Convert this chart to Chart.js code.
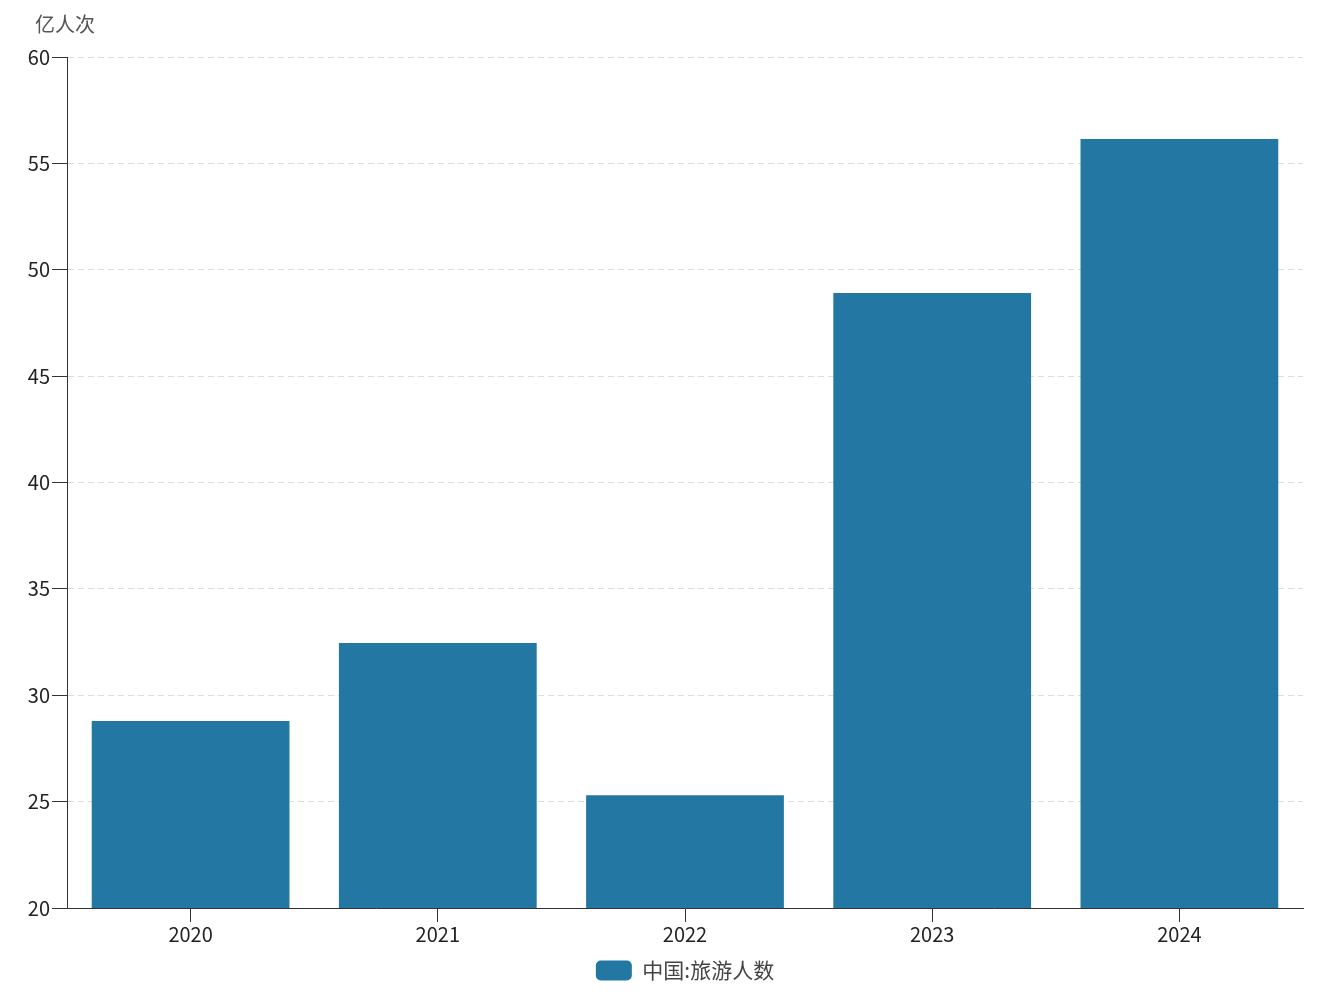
<!DOCTYPE html>
<html>
<head>
<meta charset="utf-8">
<script src="https://cdn.jsdelivr.net/npm/chart.js@4/dist/chart.umd.min.js"></script>
<style>
    body { margin: 0; background: #fff; }
    #chart { display: block; }
</style>
</head>
<body>
<canvas id="chart" width="1338" height="996"></canvas>
<script>
const years = ["2020", "2021", "2022", "2023", "2024"];
const tourists = [28.79, 32.46, 25.30, 48.91, 56.15];
const series_name = "中国:旅游人数";
const unit_label = "亿人次";

const font_family = '"Noto Sans CJK SC", "Noto Sans", sans-serif';
const bar_color = "#2377a3";

// unit text above the y axis, legend centred under the plot area
const extras = {
    id: "extras",
    afterLayout: function(chart) {
        if (chart.legend) {
            chart.legend.left += chart.chartArea.left;
        }
    },
    afterDraw: function(chart) {
        const ctx = chart.ctx;
        ctx.save();
        ctx.font = "20px " + font_family;
        ctx.fillStyle = "#555";
        ctx.textAlign = "left";
        ctx.textBaseline = "middle";
        ctx.fillText(unit_label, 35, 24);
        ctx.restore();
    }
};

new Chart(document.getElementById("chart"), {
    type: "bar",
    data: {
        labels: years,
        datasets: [{
            label: series_name,
            data: tourists,
            backgroundColor: bar_color,
            borderWidth: 0,
            categoryPercentage: 0.8,
            barPercentage: 1.0
        }]
    },
    options: {
        responsive: false,
        animation: false,
        layout: {
            padding: { top: 57, right: 35, left: 0, bottom: 5 }
        },
        plugins: {
            tooltip: { enabled: false },
            legend: {
                position: "bottom",
                labels: {
                    font: { size: 21, family: font_family },
                    color: "#444",
                    boxWidth: 36,
                    boxHeight: 20,
                    useBorderRadius: true,
                    borderRadius: 5,
                    padding: 8
                }
            }
        },
        scales: {
            x: {
                afterFit: function(scale) { scale.height += 6; },
                grid: {
                    offset: false,
                    drawOnChartArea: false,
                    tickLength: 14,
                    tickColor: "#333"
                },
                border: { color: "#333", width: 1 },
                ticks: {
                    font: { size: 20, family: font_family },
                    color: "#222",
                    padding: 0
                }
            },
            y: {
                min: 20,
                max: 60,
                afterFit: function(scale) { scale.width = 67; },
                grid: {
                    color: "#ddd",
                    tickColor: "#333",
                    tickLength: 15,
                    tickBorderDash: []
                },
                border: { color: "#333", width: 1, dash: [6, 4] },
                ticks: {
                    stepSize: 5,
                    font: { size: 20, family: font_family },
                    color: "#222",
                    padding: 2
                }
            }
        }
    },
    plugins: [extras]
});
</script>
</body>
</html>
